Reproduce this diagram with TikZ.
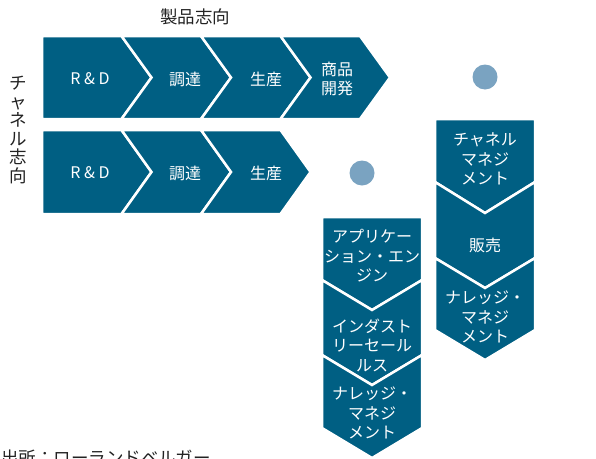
\documentclass[tikz,border=0pt]{standalone}
\usepackage{fontspec}
\setmainfont{Noto Sans CJK JP}
\definecolor{chev}{RGB}{0,95,131}
\definecolor{dotc}{RGB}{122,163,193}
\definecolor{lbl}{RGB}{34,34,34}
\tikzset{
  chevfill/.style={fill=chev, draw=white, line width=2.5pt, line join=miter},
  intxt/.style={text=white, align=center, font=\fontsize{16}{19.5}\selectfont, inner sep=0pt},
  outtxt/.style={text=lbl, font=\fontsize{17.5}{19}\selectfont, inner sep=0pt},
  dotstyle/.style={fill=dotc, draw=none}
}
\begin{document}
\begin{tikzpicture}[x=1pt,y=-1pt]
\useasboundingbox (0,0) rectangle (596,458);
\clip (0,0) rectangle (596,458);
% horizontal row 1
\foreach \i/\n in {0/0,1/1,2/1,3/1}{
  \pgfmathsetmacro{\L}{42+79.5*\i}
  \ifnum\n=0
    \path[chevfill] (\L,36) -- (\L+79.5,36) -- (\L+109.5,77.5) -- (\L+79.5,119) -- (\L,119) -- cycle;
  \else
    \path[chevfill] (\L,36) -- (\L+79.5,36) -- (\L+109.5,77.5) -- (\L+79.5,119) -- (\L,119) -- (\L+30,77.5) -- cycle;
  \fi
}
% horizontal row 2
\foreach \i/\n in {0/0,1/1,2/1}{
  \pgfmathsetmacro{\L}{42+79.5*\i}
  \ifnum\n=0
    \path[chevfill] (\L,130) -- (\L+79.5,130) -- (\L+109.5,172) -- (\L+79.5,214) -- (\L,214) -- cycle;
  \else
    \path[chevfill] (\L,130) -- (\L+79.5,130) -- (\L+109.5,172) -- (\L+79.5,214) -- (\L,214) -- (\L+30,172) -- cycle;
  \fi
}
% right vertical column
\path[chevfill] (435,119) -- (535,119) -- (535,182) -- (485,213) -- (435,182) -- cycle;
\path[chevfill] (435,182) -- (485,213) -- (535,182) -- (535,258) -- (485,288) -- (435,258) -- cycle;
\path[chevfill] (435,258) -- (485,288) -- (535,258) -- (535,330) -- (485,360) -- (435,330) -- cycle;
% left vertical column
\path[chevfill] (322,217) -- (422,217) -- (422,280) -- (372,310) -- (322,280) -- cycle;
\path[chevfill] (322,280) -- (372,310) -- (422,280) -- (422,355) -- (372,385) -- (322,355) -- cycle;
\path[chevfill] (322,355) -- (372,385) -- (422,355) -- (422,428) -- (372,458) -- (322,428) -- cycle;
% dots
\fill[dotstyle] (362,173) circle (12.5);
\fill[dotstyle] (485,77) circle (12.5);
% texts row 1
\node[intxt] (r1a) at (90,79) {R\hspace{3.5pt}\&\hspace{3.5pt}D};
\node[intxt] (r1b) at (185,79) {調達};
\node[intxt] (r1c) at (266,79) {生産};
\node[intxt] (r1d) at (337,79) {商品\\開発};
% texts row 2
\node[intxt] (r2a) at (90,173) {R\hspace{3.5pt}\&\hspace{3.5pt}D};
\node[intxt] (r2b) at (185,173) {調達};
\node[intxt] (r2c) at (266,173) {生産};
% right column texts
\node[intxt] (v1a) at (485,159) {チャネル\\マネジ\\メント};
\node[intxt] (v1b) at (485,245) {販売};
\node[intxt] (v1c) at (485,317) {ナレッジ・\\マネジ\\メント};
% left column texts
\node[intxt] (v2a) at (372,256) {アプリケー\\ション・エン\\ジン};
\node[intxt] (v2b) at (372,345) {インダスト\\リーセール\\ルス};
\node[intxt] (v2c) at (372,413) {ナレッジ・\\マネジ\\メント};
% outer labels
\node[outtxt] (top) at (195,17) {製品志向};
\node[outtxt, align=center, font=\fontsize{17.5}{18.5}\selectfont] (side) at (18,130) {チ\\ャ\\ネ\\ル\\志\\向};
\node[outtxt, anchor=west] (src) at (1,458) {出所：ローランドベルガー};
\end{tikzpicture}
\end{document}
